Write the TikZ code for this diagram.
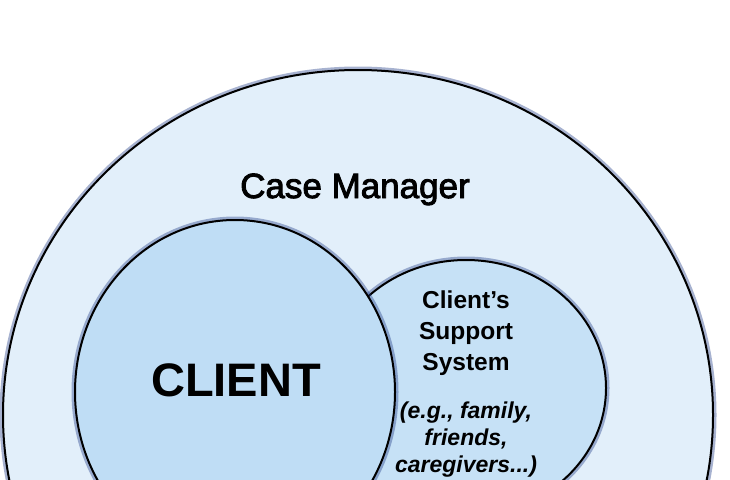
\documentclass[tikz,border=0pt]{standalone}
\usepackage{fontspec}
\setmainfont{Liberation Sans}
\newfontfamily\medfont[FakeBold=2.5]{Liberation Sans}
\usetikzlibrary{shapes.geometric}
\definecolor{mgrfill}{HTML}{E2EFFA}
\definecolor{clientfill}{HTML}{BFDDF5}
\definecolor{suppfill}{HTML}{C6E1F6}
\definecolor{haloblue}{HTML}{24408A}

\begin{document}
\begin{tikzpicture}[x=1pt,y=-1pt]
\tikzset{bulle/.style={draw, ellipse, line width=2pt, inner sep=0pt,
  preaction={draw=haloblue, line width=7pt, draw opacity=0.4}}}
\useasboundingbox (0,0) rectangle (730,479);
\fill[white] (0,0) rectangle (730,479);
\clip (0,0) rectangle (730,479);
\node[bulle, fill=mgrfill, minimum width=710pt, minimum height=690pt] (manager) at (358,415) {};
\node[bulle, fill=suppfill, minimum width=280pt, minimum height=256pt] (support) at (466,388) {};
\node[bulle, fill=clientfill, minimum width=320pt, minimum height=344pt] (client) at (235,392) {};
\node[anchor=base, font=\fontsize{35}{40}\medfont] (mgrlabel) at (355,198) {Case Manager};
\node[font=\fontsize{47}{50}\selectfont\bfseries] (clientlabel) at (236,380) {CLIENT};
\node[anchor=base, align=center, font=\fontsize{24.5}{31}\selectfont\bfseries] (supplabel) at (466,370) {Client’s\\Support\\System};
\node[anchor=base, align=center, font=\fontsize{23}{27}\selectfont\bfseries\itshape] (suppex) at (466,472) {(e.g., family,\\friends,\\caregivers...)};
\end{tikzpicture}
\end{document}
